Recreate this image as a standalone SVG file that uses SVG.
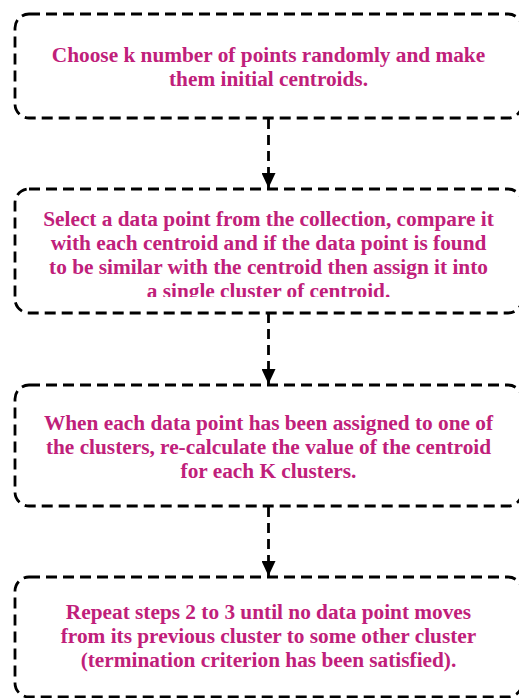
<svg xmlns="http://www.w3.org/2000/svg" width="519" height="698" viewBox="0 0 519 698">
  <defs>
    <style>
      .box { fill: #ffffff; stroke: #000000; stroke-width: 2.8; stroke-dasharray: 11 6; }
      .conn { stroke: #000000; stroke-width: 2.8; stroke-dasharray: 10 6; fill: none; }
      .lbl { font-family: "Liberation Serif", "Times New Roman", serif; font-weight: bold; font-size: 21.3px; fill: #c0207a; text-anchor: middle; }
    </style>
    <marker id="arrow" markerWidth="15" markerHeight="14" refX="15" refY="7" orient="auto" markerUnits="userSpaceOnUse">
      <path d="M0,0 L15,7 L0,14 Z" fill="#000000"/>
    </marker>
    <clipPath id="clip2">
      <rect x="15" y="189" width="507" height="108"/>
    </clipPath>
  </defs>
  <rect width="519" height="698" fill="#ffffff"/>

  <g id="connectors">
    <line class="conn" x1="268.5" y1="119" x2="268.5" y2="188" marker-end="url(#arrow)"/>
    <line class="conn" x1="268.5" y1="313" x2="268.5" y2="384" marker-end="url(#arrow)"/>
    <line class="conn" x1="268.5" y1="507" x2="268.5" y2="576" marker-end="url(#arrow)"/>
  </g>

  <g id="step1">
    <rect class="box" x="15" y="14" width="507" height="104" rx="14" ry="14"/>
    <text class="lbl" x="268.5" y="62">Choose k number of points randomly and make</text>
    <text class="lbl" x="268.5" y="86">them initial centroids.</text>
  </g>

  <g id="step2">
    <rect class="box" x="15" y="189" width="507" height="124" rx="14" ry="14"/>
    <g clip-path="url(#clip2)">
      <text class="lbl" x="268.5" y="226">Select a data point from the collection, compare it</text>
      <text class="lbl" x="268.5" y="250">with each centroid and if the data point is found</text>
      <text class="lbl" x="268.5" y="274">to be similar with the centroid then assign it into</text>
      <text class="lbl" x="268.5" y="298">a single cluster of centroid.</text>
    </g>
  </g>

  <g id="step3">
    <rect class="box" x="15" y="385" width="507" height="121" rx="14" ry="14"/>
    <text class="lbl" x="268.5" y="430">When each data point has been assigned to one of</text>
    <text class="lbl" x="268.5" y="454">the clusters, re-calculate the value of the centroid</text>
    <text class="lbl" x="268.5" y="478">for each K clusters.</text>
  </g>

  <g id="step4">
    <rect class="box" x="15" y="577" width="507" height="120" rx="14" ry="14"/>
    <text class="lbl" x="268.5" y="619">Repeat steps 2 to 3 until no data point moves</text>
    <text class="lbl" x="268.5" y="643">from its previous cluster to some other cluster</text>
    <text class="lbl" x="268.5" y="667">(termination criterion has been satisfied).</text>
  </g>
</svg>
